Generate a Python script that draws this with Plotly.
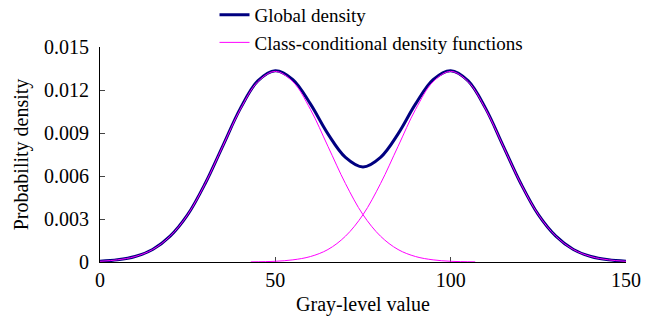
import plotly.graph_objects as go

# Gray-level values (sample positions)
x_vals = [0, 5, 10, 15, 20, 25, 30, 35, 40, 45, 50, 55, 60, 65, 70, 75,
          80, 85, 90, 95, 100, 105, 110, 115, 120, 125, 130, 135, 140, 145, 150]

# Global density (sum of the two classes)
global_density = [0.00005, 0.00015, 0.00038, 0.00087, 0.0018, 0.0033, 0.00548, 0.00809,
                  0.0107, 0.01264, 0.01335, 0.01273, 0.01103, 0.00894, 0.0073, 0.00663,
                  0.0073, 0.00894, 0.01103, 0.01273, 0.01335, 0.01264, 0.0107, 0.00809,
                  0.00548, 0.0033, 0.0018, 0.00087, 0.00038, 0.00015, 0.00005]

# Class-conditional density 1 (mean ~50), drawn over 0..~107
x_class1 = [0, 5, 10, 15, 20, 25, 30, 35, 40, 45, 50, 55, 60, 65, 70, 75,
            80, 85, 90, 95, 100, 107]
class1 = [0.00005, 0.00015, 0.00038, 0.00087, 0.0018, 0.0033, 0.00547, 0.00807,
          0.01065, 0.01258, 0.0133, 0.01258, 0.01065, 0.00807, 0.00547, 0.0033,
          0.0018, 0.00087, 0.00038, 0.00015, 0.00005, 0.00001]

# Class-conditional density 2 (mean ~100), drawn over ~43..150
x_class2 = [43, 50, 55, 60, 65, 70, 75, 80, 85, 90, 95, 100, 105, 110, 115,
            120, 125, 130, 135, 140, 145, 150]
class2 = [0.00001, 0.00005, 0.00015, 0.00038, 0.00087, 0.0018, 0.0033, 0.00547,
          0.00807, 0.01065, 0.01258, 0.0133, 0.01258, 0.01065, 0.00807, 0.00547,
          0.0033, 0.0018, 0.00087, 0.00038, 0.00015, 0.00005]

y_ticks = [0, 0.003, 0.006, 0.009, 0.012, 0.015]
y_tick_text = ["0", "0.003", "0.006", "0.009", "0.012", "0.015"]
x_ticks = [0, 50, 100, 150]

FONT = "Liberation Serif, serif"

fig = go.Figure()
fig.add_trace(go.Scatter(x=x_vals, y=global_density, mode="lines",
                         line=dict(color="#000080", width=3, shape="spline"),
                         name="Global density"))
fig.add_trace(go.Scatter(x=x_class1, y=class1, mode="lines",
                         line=dict(color="#FF00FF", width=1, shape="spline"),
                         name="Class-conditional density functions", legendgroup="c"))
fig.add_trace(go.Scatter(x=x_class2, y=class2, mode="lines",
                         line=dict(color="#FF00FF", width=1, shape="spline"),
                         name="Class-conditional density functions", legendgroup="c",
                         showlegend=False))

fig.update_layout(
    width=655, height=321,
    margin=dict(l=100, r=29, t=47, b=59, autoexpand=False),
    paper_bgcolor="white", plot_bgcolor="white",
    font=dict(family=FONT, size=20, color="black"),
    showlegend=True,
    legend=dict(x=0.2177, y=1.238, xanchor="left", yanchor="top",
                bgcolor="rgba(0,0,0,0)", font=dict(family=FONT, size=19),
                tracegroupgap=0),
    xaxis=dict(range=[0, 150], tickvals=x_ticks, ticks="inside", ticklen=5,
               showline=True, linecolor="black", linewidth=1, showgrid=False,
               zeroline=False, mirror=False, layer="below traces",
               tickfont=dict(family=FONT, size=20),
               title=dict(text="Gray-level value", standoff=6,
                          font=dict(family=FONT, size=20))),
    yaxis=dict(range=[0, 0.015], tickvals=y_ticks, ticktext=y_tick_text,
               ticks="inside", ticklen=5, showline=True, linecolor="black",
               linewidth=1, showgrid=False, zeroline=False, layer="below traces",
               ticklabelstandoff=6, tickfont=dict(family=FONT, size=20),
               title=dict(text="Probability density", standoff=10,
                          font=dict(family=FONT, size=20))),
)

fig.write_html("out.html")
